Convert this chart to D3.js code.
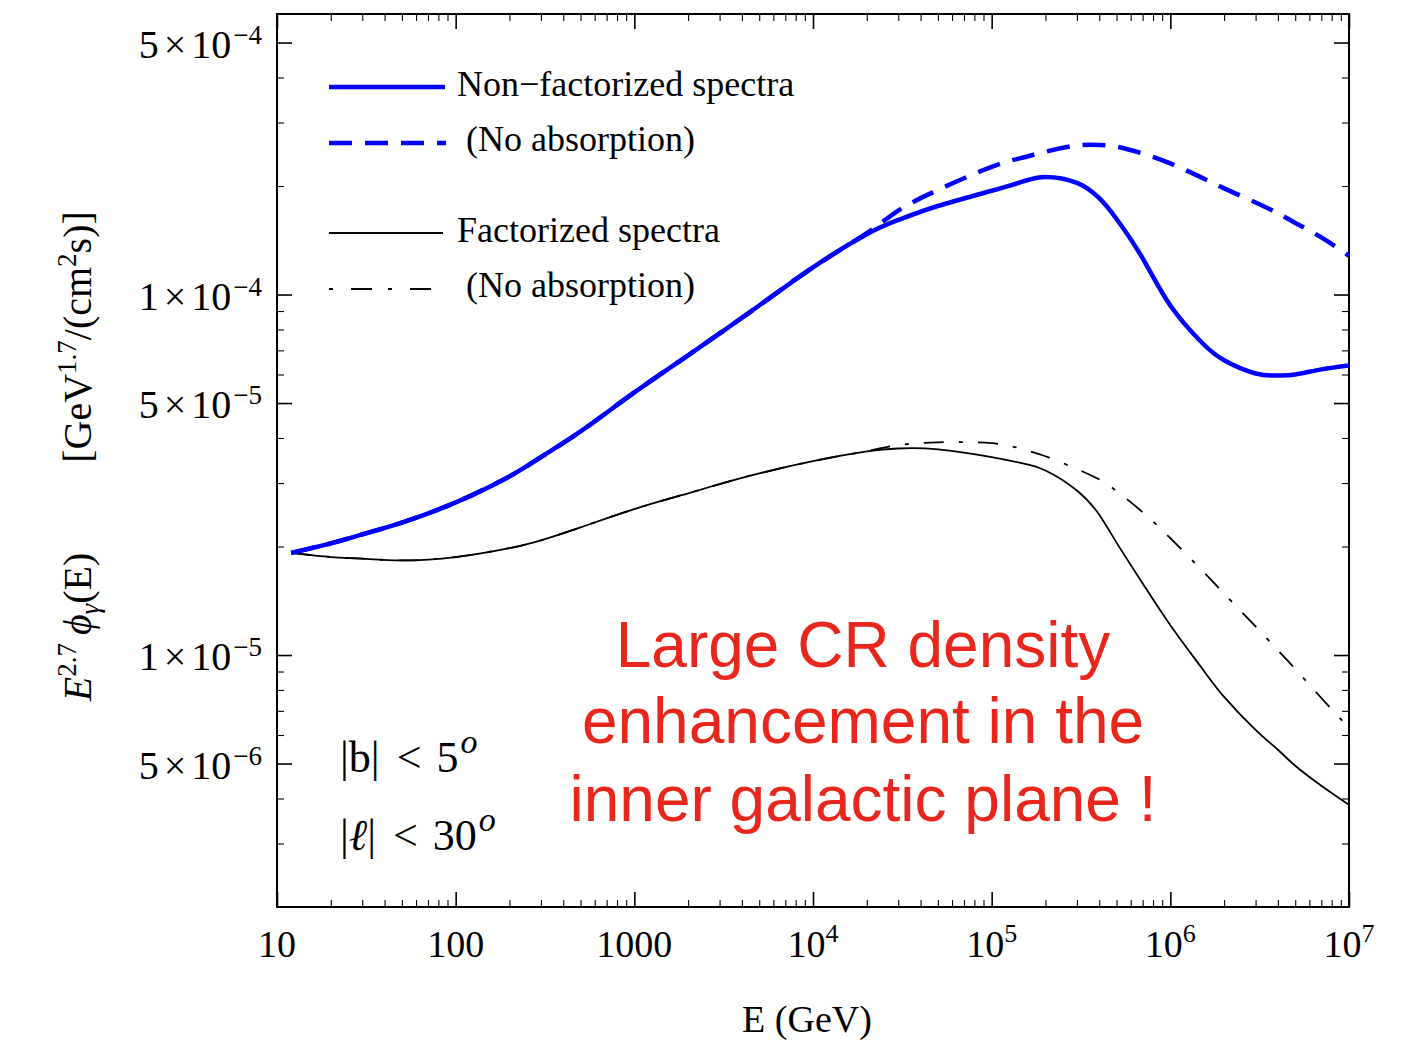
<!DOCTYPE html>
<html><head><meta charset="utf-8">
<script src="https://cdn.jsdelivr.net/npm/d3@7"></script>
<style>body{margin:0;background:#fff}</style>
</head><body>
<svg id="c" width="1419" height="1045" xmlns="http://www.w3.org/2000/svg"></svg>
<script>
// ---------- data ----------
const energies = [12,20,30,50,100,200,300,500,1000,2000,3000,5000,1e4,2e4,3e4,5e4,1e5,1.5e5,2e5,3e5,4e5,5e5,7e5,1e6,1.5e6,2e6,3e6,4e6,5e6,7e6,1e7];
const nonFactorized = [1.92e-5,2.04e-5,2.16e-5,2.33e-5,2.65e-5,3.13e-5,3.54e-5,4.17e-5,5.35e-5,6.78e-5,7.80e-5,9.32e-5,1.19e-4,1.47e-4,1.61e-4,1.76e-4,1.94e-4,2.06e-4,2.12e-4,2.04e-4,1.85e-4,1.62e-4,1.26e-4,9.32e-5,7.36e-5,6.57e-5,6.04e-5,5.96e-5,6.00e-5,6.20e-5,6.36e-5];
const nonFactorizedNoAbs = [1.92e-5,2.04e-5,2.16e-5,2.33e-5,2.65e-5,3.13e-5,3.54e-5,4.17e-5,5.35e-5,6.78e-5,7.80e-5,9.32e-5,1.19e-4,1.48e-4,1.71e-4,1.95e-4,2.26e-4,2.40e-4,2.49e-4,2.59e-4,2.60e-4,2.57e-4,2.46e-4,2.31e-4,2.11e-4,1.97e-4,1.80e-4,1.68e-4,1.58e-4,1.44e-4,1.28e-4];
const factorized = [1.92e-5,1.87e-5,1.85e-5,1.83e-5,1.87e-5,1.98e-5,2.08e-5,2.26e-5,2.54e-5,2.81e-5,2.98e-5,3.19e-5,3.45e-5,3.67e-5,3.74e-5,3.72e-5,3.54e-5,3.40e-5,3.25e-5,2.86e-5,2.45e-5,2.05e-5,1.58e-5,1.21e-5,9.20e-6,7.65e-6,6.20e-6,5.46e-6,4.93e-6,4.34e-6,3.84e-6];
const factorizedNoAbs = [1.92e-5,1.87e-5,1.85e-5,1.83e-5,1.87e-5,1.98e-5,2.08e-5,2.26e-5,2.54e-5,2.81e-5,2.98e-5,3.19e-5,3.45e-5,3.68e-5,3.82e-5,3.89e-5,3.87e-5,3.72e-5,3.56e-5,3.28e-5,3.07e-5,2.85e-5,2.49e-5,2.11e-5,1.72e-5,1.48e-5,1.20e-5,1.03e-5,9.15e-6,7.60e-6,6.28e-6];

const xTickValues = [10,100,1000,1e4,1e5,1e6,1e7];
const xTickBase = ["10","100","1000","10","10","10","10"];
const xTickSup  = ["","","","4","5","6","7"];
const yTickValues = [5e-4,1e-4,5e-5,1e-5,5e-6];
const yTickMantissa = ["5","1","5","1","5"];
const yTickExp = ["\u22124","\u22124","\u22125","\u22125","\u22126"];

const legendLabels = ["Non\u2212factorized spectra"," (No absorption)","Factorized spectra"," (No absorption)"];
const annotationLines = ["Large CR density","enhancement in the","inner galactic plane !"];

// ---------- layout ----------
const L = 277, R = 1349, T = 14, B = 907;
const serif = "'Liberation Serif','Times New Roman',serif";
const svg = d3.select("#c");
const x = d3.scaleLog().domain([10,1e7]).range([L,R]);
const y = d3.scaleLog().domain([2e-6,6e-4]).range([B,T]);

const isMajorX = v => xTickValues.some(t => Math.abs(t - v)/t < 1e-9);
const isMajorY = v => yTickValues.some(t => Math.abs(t - v)/t < 1e-9);
const xMinor = x.ticks().filter(v => !isMajorX(v) && v > 10 && v < 1e7);
const yMinor = y.ticks().filter(v => !isMajorY(v) && v > 2.05e-6 && v < 5.9e-4);

function axis(gen, tr, sw){
  const g = svg.append("g").attr("transform", tr).call(gen);
  g.select(".domain").remove();
  g.selectAll(".tick line").attr("stroke","#000").attr("stroke-width", sw);
  g.selectAll(".tick text").remove();
  return g;
}
axis(d3.axisBottom(x).tickValues(xTickValues).tickSize(-15).tickFormat(""), `translate(0,${B})`, 1.6);
axis(d3.axisBottom(x).tickValues(xMinor).tickSize(-7).tickFormat(""), `translate(0,${B})`, 1.1);
axis(d3.axisTop(x).tickValues(xTickValues).tickSize(-15).tickFormat(""), `translate(0,${T})`, 1.6);
axis(d3.axisTop(x).tickValues(xMinor).tickSize(-7).tickFormat(""), `translate(0,${T})`, 1.1);
axis(d3.axisLeft(y).tickValues(yTickValues).tickSize(-15).tickFormat(""), `translate(${L},0)`, 1.6);
axis(d3.axisLeft(y).tickValues(yMinor).tickSize(-7).tickFormat(""), `translate(${L},0)`, 1.1);
axis(d3.axisRight(y).tickValues(yTickValues).tickSize(-15).tickFormat(""), `translate(${R},0)`, 1.6);
axis(d3.axisRight(y).tickValues(yMinor).tickSize(-7).tickFormat(""), `translate(${R},0)`, 1.1);

svg.append("rect").attr("x",L).attr("y",T).attr("width",R-L).attr("height",B-T)
  .attr("fill","none").attr("stroke","#000").attr("stroke-width",2);

// x tick labels
xTickValues.forEach((v,i)=>{
  const t = svg.append("text").attr("x", x(v)).attr("y", 957)
    .attr("text-anchor","middle").attr("font-family",serif).attr("font-size",38).attr("fill","#000");
  t.append("tspan").text(xTickBase[i]);
  if (xTickSup[i]) t.append("tspan").attr("font-size",26).attr("dy",-15).text(xTickSup[i]);
});
// y tick labels
yTickValues.forEach((v,i)=>{
  const t = svg.append("text").attr("x", 262).attr("y", y(v)+15)
    .attr("text-anchor","end").attr("font-family",serif).attr("font-size",40).attr("fill","#000");
  t.append("tspan").text(yTickMantissa[i]);
  t.append("tspan").attr("dx",5).text("\u00d7");
  t.append("tspan").attr("dx",5).text("10");
  t.append("tspan").attr("font-size",27).attr("dy",-14).attr("dx",2).text(yTickExp[i]);
});

// axis titles
svg.append("text").attr("x",807).attr("y",1032).attr("text-anchor","middle")
  .attr("font-family",serif).attr("font-size",38).text("E (GeV)");
{
  const t1 = svg.append("text").attr("transform","translate(91,627) rotate(-90)")
    .attr("text-anchor","middle").attr("font-family",serif).attr("font-size",40);
  t1.append("tspan").attr("font-style","italic").text("E");
  t1.append("tspan").attr("font-size",27).attr("dy",-15).text("2.7");
  t1.append("tspan").attr("dy",15).attr("dx",8).attr("font-style","italic").text("\u03d5");
  t1.append("tspan").attr("font-size",27).attr("dy",8).attr("font-style","italic").text("\u03b3");
  t1.append("tspan").attr("dy",-8).text("(E)");
  const t2 = svg.append("text").attr("transform","translate(91,337) rotate(-90)")
    .attr("text-anchor","middle").attr("font-family",serif).attr("font-size",40);
  t2.append("tspan").text("[GeV");
  t2.append("tspan").attr("font-size",27).attr("dy",-15).text("1.7");
  t2.append("tspan").attr("dy",15).text("/(cm");
  t2.append("tspan").attr("font-size",27).attr("dy",-15).text("2");
  t2.append("tspan").attr("dy",15).text("s)]");
}

// curves
svg.append("defs").append("clipPath").attr("id","plotclip")
  .append("rect").attr("x",L).attr("y",T).attr("width",R-L).attr("height",B-T);
const line = d3.line().x(d=>x(d[0])).y(d=>y(d[1])).curve(d3.curveNatural);
const series = [
  {vals: factorizedNoAbs, color:"#000", w:1.8, dash:"20,15,4,15"},
  {vals: factorized, color:"#000", w:1.8, dash:null},
  {vals: nonFactorized, color:"#0000ff", w:4.5, dash:null},
  {vals: nonFactorizedNoAbs, color:"#0000ff", w:4.5, dash:"23,13"}
];
const cg = svg.append("g").attr("clip-path","url(#plotclip)");
series.forEach(s=>{
  cg.append("path").datum(energies.map((e,i)=>[e,s.vals[i]]))
    .attr("d",line).attr("fill","none").attr("stroke",s.color)
    .attr("stroke-width",s.w).attr("stroke-dasharray",s.dash)
    .attr("stroke-linejoin","round");
});

// legend
const legendItems = [
  {y:87, x2:445, color:"#0000ff", w:4.5, dash:null, tx:457, ty:96},
  {y:143, x2:446, color:"#0000ff", w:4.5, dash:"23,13", tx:457, ty:151},
  {y:233, x2:443, color:"#000", w:1.8, dash:null, tx:457, ty:242},
  {y:289, x2:431, color:"#000", w:1.8, dash:"4,18,21,16", tx:457, ty:297}
];
legendItems.forEach((it,i)=>{
  svg.append("line").attr("x1",329).attr("x2",it.x2).attr("y1",it.y).attr("y2",it.y)
    .attr("stroke",it.color).attr("stroke-width",it.w).attr("stroke-dasharray",it.dash);
  svg.append("text").attr("x",it.tx).attr("y",it.ty).attr("font-family",serif)
    .attr("font-size",36).style("white-space","pre").text(legendLabels[i]);
});

// region labels
{
  const a = svg.append("text").attr("x",340).attr("y",772).attr("font-family",serif).attr("font-size",44);
  a.append("tspan").text("|b|");
  a.append("tspan").attr("dx",17).text("<");
  a.append("tspan").attr("dx",15).text("5");
  a.append("tspan").attr("font-size",34).attr("dy",-19).attr("dx",2).attr("font-style","italic").text("o");
  const b = svg.append("text").attr("x",340).attr("y",850).attr("font-family",serif).attr("font-size",44);
  b.append("tspan").text("|");
  b.append("tspan").attr("font-style","italic").text("\u2113");
  b.append("tspan").text("|");
  b.append("tspan").attr("dx",17).text("<");
  b.append("tspan").attr("dx",15).text("30");
  b.append("tspan").attr("font-size",34).attr("dy",-19).attr("dx",2).attr("font-style","italic").text("o");
}

// annotation
const ann = [667,743,821];
annotationLines.forEach((s,i)=>{
  svg.append("text").attr("x",863).attr("y",ann[i]).attr("text-anchor","middle")
    .attr("font-family","'Liberation Sans',Arial,Helvetica,sans-serif").attr("font-size",64)
    .attr("fill","#e9261b").text(s);
});
</script>
</body></html>
